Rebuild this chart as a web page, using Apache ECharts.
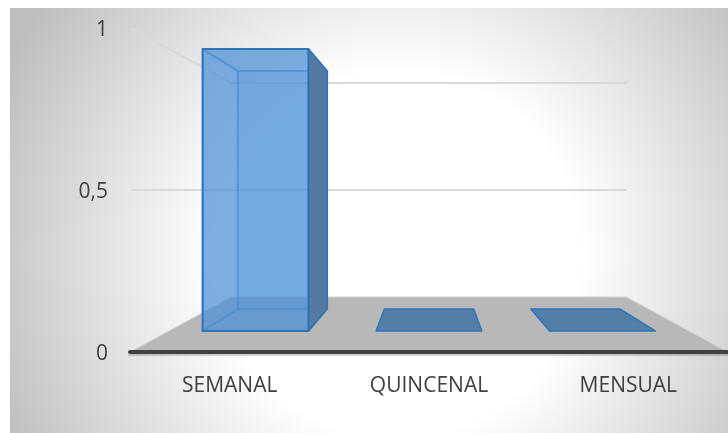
<!DOCTYPE html>
<html>
<head>
<meta charset="utf-8">
<style>html,body{margin:0;padding:0;background:#fff}#c{width:728px;height:433px}</style>
<script src="https://cdn.jsdelivr.net/npm/echarts@6/dist/echarts.min.js"></script>
</head>
<body>
<div id="c"></div>
<script>
var categories = ['SEMANAL', 'QUINCENAL', 'MENSUAL'];
var values = [1, 0, 0];
var wallTicks = [0.5, 1];

// perspective scale of each depth plane relative to the front plane of the axes
var DEPTH_FLOOR_BACK = 0.66, DEPTH_BAR_FRONT = 0.87, DEPTH_BAR_BACK = 0.735, BAR_RATIO = 0.61;

function projector(api, params) {
  var cs = params.coordSys;
  var cx = cs.x + cs.width / 2;
  var vy = api.coord([0, 0.5])[1];
  return function (x, y, s) { return [cx + (x - cx) * s, vy + (y - vy) * s]; };
}

function renderGrid(params, api) {
  var p = projector(api, params), cs = params.coordSys;
  var y = api.coord([0, api.value(1)])[1];
  return { type: 'polyline', silent: true,
    shape: { points: [[cs.x, y], p(cs.x, y, DEPTH_FLOOR_BACK), p(cs.x + cs.width, y, DEPTH_FLOOR_BACK)] },
    style: { fill: null, stroke: '#d9d9d9', lineWidth: 2 } };
}

function renderFloor(params, api) {
  var p = projector(api, params), cs = params.coordSys;
  var y = api.coord([0, 0])[1], l = cs.x, r = cs.x + cs.width;
  return { type: 'polygon', silent: true,
    shape: { points: [[l, y], p(l, y, DEPTH_FLOOR_BACK), p(r, y, DEPTH_FLOOR_BACK), [r, y]] },
    style: { fill: '#b8b8b8', stroke: '#d6d6d6', lineWidth: 1 } };
}

function renderBar(params, api) {
  var p = projector(api, params);
  var c0 = api.coord([api.value(0), 0]), c1 = api.coord([api.value(0), api.value(1)]);
  var hw = api.size([1, 0])[0] * BAR_RATIO / 2;
  var l = c0[0] - hw, r = c0[0] + hw, y0 = c0[1], y1 = c1[1];
  var f = DEPTH_BAR_FRONT, b = DEPTH_BAR_BACK;
  var FBL = p(l, y0, f), FBR = p(r, y0, f), FTL = p(l, y1, f), FTR = p(r, y1, f);
  var BBL = p(l, y0, b), BBR = p(r, y0, b), BTL = p(l, y1, b), BTR = p(r, y1, b);
  var edge = '#2e75b6';
  var inner = 'rgba(70,140,210,0.55)';
  function face(pts, fill, stroke, w) {
    return { type: 'polygon', silent: true, shape: { points: pts }, style: { fill: fill, stroke: stroke, lineWidth: w, lineJoin: 'round' } };
  }
  var kids = [];
  if (y0 !== y1) {
    kids.push(face([BBL, BBR, BTR, BTL], 'rgba(80,145,215,0.35)', inner, 2));
    kids.push(face([FBL, BBL, BTL, FTL], 'rgba(80,145,215,0.2)', inner, 2));
    kids.push(face([FBL, FBR, BBR, BBL], 'rgba(80,145,215,0.25)', inner, 2));
    kids.push(face([FTL, FTR, BTR, BTL], 'rgba(60,125,190,0.2)', inner, 2));
    kids.push(face([FBR, BBR, BTR, FTR], '#557aa1', edge, 1.5));
    kids.push(face([FBL, FBR, FTR, FTL], 'rgba(80,145,215,0.68)', edge, 2));
  } else {
    kids.push(face([FTL, FTR, BTR, BTL], '#527ea8', edge, 1.5));
  }
  return { type: 'group', children: kids };
}

var chart = echarts.init(document.getElementById('c'), null, { renderer: 'canvas' });
chart.setOption({
  animation: false,
  textStyle: { fontFamily: '"Open Sans", sans-serif' },
  grid: { left: 130, right: 0, top: 28, bottom: 81, containLabel: false },
  graphic: [{
    type: 'rect', z: -10, silent: true,
    shape: { x: 10, y: 8, width: 718, height: 425 },
    style: { fill: new echarts.graphic.RadialGradient(0.54, 0.58, 1.02, [
      { offset: 0, color: '#ffffff' },
      { offset: 0.42, color: '#ffffff' },
      { offset: 1, color: '#bebebe' }
    ]) }
  }],
  xAxis: {
    type: 'category', data: categories, z: 10,
    axisTick: { show: false },
    axisLine: { lineStyle: { color: '#404040', width: 4, cap: 'round', shadowColor: 'rgba(0,0,0,0.18)', shadowOffsetY: 2, shadowBlur: 1 } },
    axisLabel: { color: '#404040', fontSize: 21, margin: 24 }
  },
  yAxis: {
    type: 'value', min: 0, max: 1, interval: 0.5,
    axisLine: { show: false }, axisTick: { show: false }, splitLine: { show: false },
    axisLabel: { color: '#404040', fontSize: 21, margin: 22, verticalAlign: 'top', lineHeight: 4,
      formatter: function (v) { return String(v).replace('.', ','); } }
  },
  series: [
    { type: 'custom', name: 'grid', renderItem: renderGrid, data: wallTicks.map(function (v) { return [0, v]; }), clip: false, silent: true, z: 1 },
    { type: 'custom', name: 'floor', renderItem: renderFloor, data: [[0, 0]], clip: false, silent: true, z: 2 },
    { type: 'custom', name: 'bars', renderItem: renderBar, data: values.map(function (v, i) { return [i, v]; }), clip: false, silent: true, z: 3 }
  ]
});
</script>
</body>
</html>
